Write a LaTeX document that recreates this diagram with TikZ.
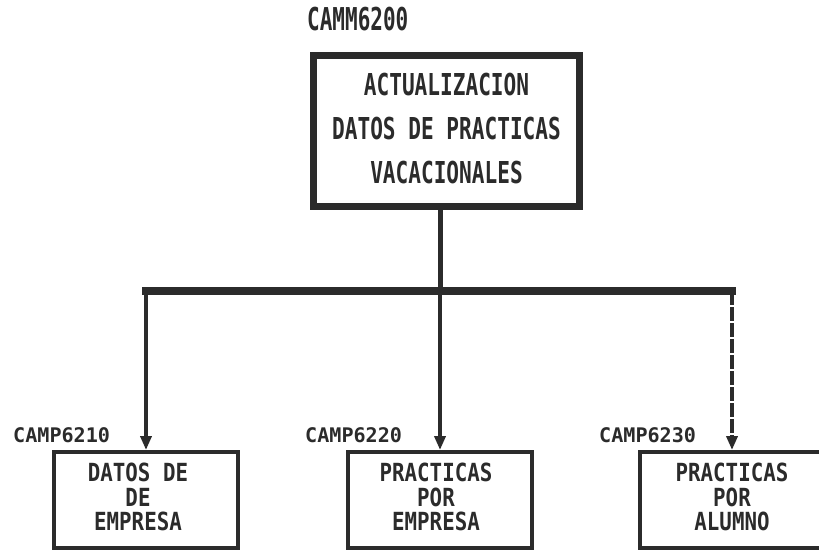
\documentclass[tikz,border=0pt]{standalone}
\usepackage{fontspec}
\usepackage{graphicx}
\setmonofont{DejaVu Sans Mono}
\usetikzlibrary{arrows.meta}
\definecolor{ink}{HTML}{2B2B2B}
\newcommand{\dottxt}[4]{\scalebox{1}[#1]{\ttfamily\bfseries\fontsize{#2}{#3}\selectfont\begin{tabular}{@{}c@{}}#4\end{tabular}}}
\begin{document}
\begin{tikzpicture}[x=1pt,y=-1pt,
  topbox/.style={draw=ink, line width=7pt, minimum width=266pt, minimum height=151pt, inner sep=0pt},
  subbox/.style={draw=ink, line width=4pt, minimum width=184pt, minimum height=96pt, inner sep=0pt},
  codelbl/.style={anchor=west, inner sep=0pt, text=ink},
  link/.style={draw=ink, line width=4pt},
  arrowlink/.style={link, -{Triangle[length=14pt,width=11pt]}}]
\useasboundingbox (0,0) rectangle (819,552);
\clip (0,0) rectangle (819,552);
\fill[white] (0,0) rectangle (819,552);

\node[topbox, text=ink] (top) at (446.5,131) {\dottxt{1.43}{21.1}{30.8}{ACTUALIZACION\\DATOS DE PRACTICAS\\VACACIONALES}};
\node[codelbl] (ltop) at (307,23.5) {\dottxt{1.5}{21}{21}{CAMM6200}};

\node[subbox, text=ink] (b1) at (146,500) {\dottxt{1.2}{20.8}{17}{DATOS DE\\DE\\EMPRESA}\hspace*{16pt}};
\node[subbox, text=ink] (b2) at (440,500) {\dottxt{1.2}{20.8}{17}{PRACTICAS\\POR\\EMPRESA}\hspace*{8pt}};
\node[subbox, text=ink] (b3) at (732,500) {\dottxt{1.2}{20.8}{17}{PRACTICAS\\POR\\ALUMNO}};

\node[codelbl] (l1) at (13,438) {\dottxt{1.0}{20.1}{20.1}{CAMP6210}};
\node[codelbl] (l2) at (305,438) {\dottxt{1.0}{20.1}{20.1}{CAMP6220}};
\node[codelbl] (l3) at (599,438) {\dottxt{1.0}{20.1}{20.1}{CAMP6230}};

\coordinate (jL) at (146,291);
\coordinate (jM) at (440,291);
\coordinate (jR) at (732,291);

\draw[link, line width=5pt] (top.south -| jM) -- (jM);
\draw[link, line width=8pt, line cap=rect] (jL) -- (jR);
\draw[arrowlink] (jL) -- (b1.north);
\draw[arrowlink] (jM) -- (b2.north);
\draw[arrowlink, dash pattern=on 14pt off 2pt] (jR) -- (b3.north);
\end{tikzpicture}
\end{document}
